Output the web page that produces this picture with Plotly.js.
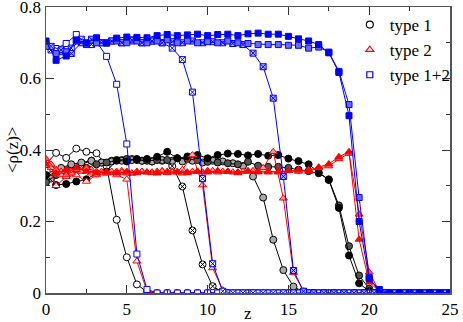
<!DOCTYPE html>
<html>
<head>
<meta charset="utf-8">
<script src="https://cdn.plot.ly/plotly-3.0.1.min.js"></script>
<style>
  html, body { margin: 0; padding: 0; background: #fff; }
  #plot { width: 463px; height: 322px; }
</style>
</head>
<body>
<div id="plot"></div>
<script>
// z positions of the bins (two grids: at bin edges and at bin centres)
const zA = [0, 0.625, 1.25, 1.875, 2.5, 3.125, 3.75, 4.375, 5, 5.625,
  6.25, 6.875, 7.5, 8.125, 8.75, 9.375, 10, 10.625, 11.25, 11.875,
  12.5, 13.125, 13.75, 14.375, 15, 15.625, 16.25, 16.875, 17.5, 18.125,
  18.75, 19.375, 20, 20.625, 21.25, 21.875, 22.5, 23.125, 23.75, 24.375, 25];
const zB = [0.3125, 0.9375, 1.5625, 2.1875, 2.8125, 3.4375, 4.0625, 4.6875, 5.3125, 5.9375,
  6.5625, 7.1875, 7.8125, 8.4375, 9.0625, 9.6875, 10.3125, 10.9375, 11.5625, 12.1875,
  12.8125, 13.4375, 14.0625, 14.6875, 15.3125, 15.9375, 16.5625, 17.1875, 17.8125, 18.4375,
  19.0625, 19.6875, 20.3125, 20.9375, 21.5625, 22.1875, 22.8125, 23.4375, 24.0625, 24.6875];

// type 1
const type1_s1 = [0.36, 0.392, 0.378, 0.404, 0.395, 0.391, 0.355, 0.205, 0.10, 0.024,
  0.003, 0, 0, 0, 0, 0, 0, 0, 0, 0,
  0, 0, 0, 0, 0, 0, 0, 0, 0, 0,
  0, 0, 0, 0, 0, 0, 0, 0, 0, 0, 0];
const type1_s2 = [0.33, 0.345, 0.355, 0.36, 0.37, 0.365, 0.37, 0.372, 0.375, 0.37,
  0.368, 0.37, 0.355, 0.298, 0.175, 0.08, 0.019, 0.002, 0, 0,
  0, 0, 0, 0, 0, 0, 0, 0, 0, 0,
  0, 0, 0, 0, 0, 0, 0, 0, 0, 0];
const type1_s3 = [0.32, 0.35, 0.36, 0.365, 0.37, 0.365, 0.368, 0.37, 0.372, 0.37,
  0.368, 0.372, 0.37, 0.368, 0.37, 0.365, 0.37, 0.368, 0.363, 0.355,
  0.326, 0.267, 0.149, 0.064, 0.018, 0.003, 0, 0, 0, 0,
  0, 0, 0, 0, 0, 0, 0, 0, 0, 0];
const type1_s4 = [0.31, 0.33, 0.33, 0.345, 0.35, 0.36, 0.365, 0.37, 0.375, 0.372,
  0.37, 0.372, 0.372, 0.377, 0.375, 0.372, 0.367, 0.365, 0.363, 0.36,
  0.367, 0.356, 0.353, 0.353, 0.35, 0.345, 0.341, 0.335, 0.318, 0.245,
  0.131, 0.049, 0.012, 0.002, 0, 0, 0, 0, 0, 0, 0];
const type1_s5 = [0.33, 0.302, 0.305, 0.312, 0.318, 0.335, 0.34, 0.372, 0.368, 0.375,
  0.375, 0.381, 0.395, 0.377, 0.382, 0.386, 0.377, 0.386, 0.39, 0.389,
  0.385, 0.389, 0.384, 0.386, 0.376, 0.369, 0.36, 0.338, 0.316, 0.238,
  0.105, 0.027, 0.005, 0, 0, 0, 0, 0, 0, 0, 0];

// type 2
const type2_s1 = [0.37, 0.30, 0.325, 0.33, 0.312, 0.33, 0.335, 0.33, 0.318, 0.089,
  0.005, 0, 0, 0, 0, 0, 0, 0, 0, 0,
  0, 0, 0, 0, 0, 0, 0, 0, 0, 0,
  0, 0, 0, 0, 0, 0, 0, 0, 0, 0, 0];
const type2_s2 = [0.35, 0.33, 0.34, 0.345, 0.335, 0.34, 0.338, 0.342, 0.335, 0.34,
  0.338, 0.342, 0.34, 0.345, 0.386, 0.302, 0.07, 0.008, 0, 0,
  0, 0, 0, 0, 0, 0, 0, 0, 0, 0,
  0, 0, 0, 0, 0, 0, 0, 0, 0, 0];
const type2_s3 = [0.36, 0.34, 0.335, 0.34, 0.345, 0.335, 0.34, 0.338, 0.335, 0.34,
  0.336, 0.34, 0.338, 0.335, 0.34, 0.338, 0.342, 0.34, 0.338, 0.34,
  0.342, 0.35, 0.395, 0.265, 0.057, 0.005, 0, 0, 0, 0,
  0, 0, 0, 0, 0, 0, 0, 0, 0, 0];
const type2_s4 = [0.375, 0.345, 0.33, 0.345, 0.35, 0.34, 0.338, 0.34, 0.335, 0.34,
  0.338, 0.34, 0.336, 0.34, 0.338, 0.34, 0.342, 0.338, 0.34, 0.336,
  0.34, 0.338, 0.34, 0.338, 0.342, 0.34, 0.344, 0.35, 0.355, 0.375,
  0.39, 0.22, 0.058, 0.005, 0, 0, 0, 0, 0, 0, 0];
const type2_s5 = [0.36, 0.335, 0.345, 0.35, 0.34, 0.335, 0.338, 0.335, 0.34, 0.336,
  0.338, 0.335, 0.34, 0.338, 0.336, 0.34, 0.338, 0.342, 0.34, 0.338,
  0.342, 0.34, 0.338, 0.34, 0.342, 0.344, 0.34, 0.352, 0.361, 0.381,
  0.395, 0.15, 0.03, 0.005, 0, 0, 0, 0, 0, 0, 0];

// type 1+2
const type12_s1 = [0.70, 0.684, 0.698, 0.723, 0.70, 0.703, 0.662, 0.584, 0.417, 0.109,
  0.01, 0, 0, 0, 0, 0, 0, 0, 0, 0,
  0, 0, 0, 0, 0, 0, 0, 0, 0, 0,
  0, 0, 0, 0, 0, 0, 0, 0, 0, 0, 0];
const type12_s2 = [0.68, 0.675, 0.685, 0.71, 0.695, 0.70, 0.705, 0.70, 0.705, 0.70,
  0.705, 0.70, 0.685, 0.653, 0.562, 0.32, 0.082, 0.005, 0, 0,
  0, 0, 0, 0, 0, 0, 0, 0, 0, 0,
  0, 0, 0, 0, 0, 0, 0, 0, 0, 0];
const type12_s3 = [0.69, 0.68, 0.67, 0.70, 0.71, 0.70, 0.705, 0.70, 0.708, 0.70,
  0.705, 0.70, 0.703, 0.70, 0.705, 0.70, 0.703, 0.70, 0.698, 0.695,
  0.671, 0.633, 0.545, 0.326, 0.063, 0.005, 0, 0, 0, 0,
  0, 0, 0, 0, 0, 0, 0, 0, 0, 0];
const type12_s4 = [0.69, 0.67, 0.675, 0.705, 0.695, 0.70, 0.70, 0.705, 0.70, 0.705,
  0.70, 0.705, 0.708, 0.70, 0.705, 0.70, 0.703, 0.70, 0.705, 0.70,
  0.698, 0.695, 0.695, 0.695, 0.693, 0.693, 0.685, 0.688, 0.674, 0.62,
  0.527, 0.267, 0.043, 0.003, 0, 0, 0, 0, 0, 0, 0];
const type12_s5 = [0.705, 0.651, 0.663, 0.708, 0.699, 0.714, 0.699, 0.713, 0.716, 0.715,
  0.714, 0.72, 0.723, 0.72, 0.722, 0.724, 0.72, 0.723, 0.724, 0.72,
  0.725, 0.727, 0.724, 0.724, 0.718, 0.711, 0.705, 0.695, 0.672, 0.617,
  0.496, 0.20, 0.04, 0.01, 0, 0, 0, 0, 0, 0, 0];

const legendNames = ['type 1', 'type 2', 'type 1+2'];

const BLACK = '#000000', RED = '#ff0000', BLUE = '#0000ff';
const FONT = 'Liberation Serif';

function curve(x, y, color, symbol, fill, size) {
    return {
        x: x, y: y,
        type: 'scatter',
        mode: 'lines+markers',
        line: { color: color, width: 1 },
        marker: { symbol: symbol, size: size, color: fill, line: { color: color, width: 1 } },
        showlegend: false,
        hoverinfo: 'skip'
    };
}

function legendEntry(name, color, symbol, size) {
    return {
        x: [null], y: [null],
        type: 'scatter',
        mode: 'markers',
        name: name,
        marker: { symbol: symbol, size: size, color: '#fff', line: { color: color, width: 1.2 } }
    };
}

const traces = [
    curve(zA, type1_s1, BLACK, 'circle', '#ffffff', 7),
    curve(zB, type1_s2, BLACK, 'circle-x', '#ffffff', 7),
    curve(zB, type1_s3, BLACK, 'circle', '#aaaaaa', 7),
    curve(zA, type1_s4, BLACK, 'circle', '#555555', 7),
    curve(zA, type1_s5, BLACK, 'circle', BLACK, 7),

    curve(zA, type2_s1, RED, 'triangle-up', '#ffffff', 7),
    curve(zB, type2_s2, RED, 'triangle-up', '#ffc4c4', 7),
    curve(zB, type2_s3, RED, 'triangle-up', '#ff9a9a', 7),
    curve(zA, type2_s4, RED, 'triangle-up', '#ff5a5a', 7),
    curve(zA, type2_s5, RED, 'triangle-up', RED, 7),

    curve(zA, type12_s1, BLUE, 'square', '#ffffff', 6),
    curve(zB, type12_s2, BLUE, 'square-x', '#ffffff', 6),
    curve(zB, type12_s3, BLUE, 'square-x', '#b4b4ff', 6),
    curve(zA, type12_s4, BLUE, 'square', '#6a6aff', 6),
    curve(zA, type12_s5, BLUE, 'square', BLUE, 6),

    legendEntry(legendNames[0], BLACK, 'circle', 7),
    legendEntry(legendNames[1], RED, 'triangle-up', 7),
    legendEntry(legendNames[2], BLUE, 'square', 6)
];

const axisCommon = {
    ticks: 'inside',
    ticklen: 8,
    tickwidth: 1,
    tickcolor: '#333',
    mirror: 'allticks',
    showline: true,
    linecolor: '#555',
    linewidth: 1.5,
    showgrid: false,
    zeroline: false,
    ticklabeloverflow: 'allow',
    tickfont: { family: FONT, size: 17, color: '#000' }
};

const titleFont = { family: FONT, size: 17, color: '#000' };

const layout = {
    width: 463,
    height: 322,
    margin: { l: 46, r: 10, t: 7, b: 29 },
    paper_bgcolor: '#fff',
    plot_bgcolor: '#fff',
    font: { family: FONT, color: '#000' },
    showlegend: true,
    legend: {
        x: 0.752, xanchor: 'left',
        y: 1, yanchor: 'top',
        bgcolor: 'rgba(0,0,0,0)',
        borderwidth: 0,
        font: { family: FONT, size: 17, color: '#000' },
        tracegroupgap: 0
    },
    xaxis: Object.assign({}, axisCommon, {
        range: [0, 25.0001],
        tick0: 0, dtick: 5,
        minor: { dtick: 2.5, ticklen: 4, ticks: 'inside', tickcolor: '#333', showgrid: false }
    }),
    yaxis: Object.assign({}, axisCommon, {
        range: [0, 0.8001],
        tick0: 0, dtick: 0.2,
        minor: { dtick: 0.1, ticklen: 4, ticks: 'inside', tickcolor: '#333', showgrid: false }
    }),
    // axis titles placed as annotations so they sit where the original has them
    annotations: [
        { text: 'z', xref: 'paper', yref: 'paper', x: 0.501, y: -0.07,
          xanchor: 'center', yanchor: 'middle', showarrow: false, font: titleFont },
        { text: '&lt;ρ(z)&gt;', xref: 'paper', yref: 'paper', x: -0.084, y: 0.5,
          xanchor: 'center', yanchor: 'middle', textangle: -90, showarrow: false, font: titleFont }
    ]
};

Plotly.newPlot('plot', traces, layout, { displayModeBar: false, staticPlot: true });
</script>
</body>
</html>
